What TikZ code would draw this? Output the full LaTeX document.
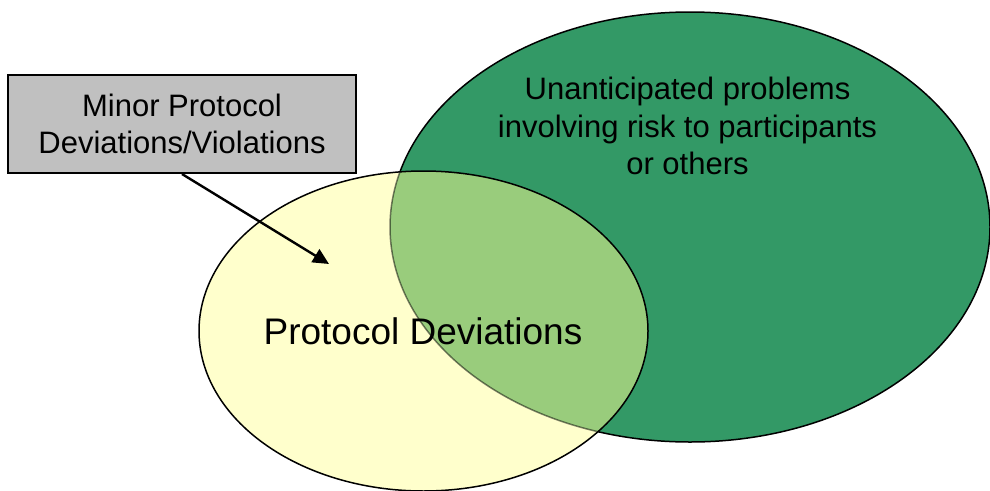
\documentclass[tikz,border=0pt]{standalone}
\usepackage{fontspec}
\setmainfont{Liberation Sans}
\usetikzlibrary{arrows.meta}
\definecolor{riskgreen}{HTML}{339966}
\definecolor{devyellow}{HTML}{FFFFCC}
\definecolor{bothgreen}{HTML}{99CC7C}
\definecolor{boxgray}{HTML}{C0C0C0}
\tikzset{
  bigtext/.style={font=\fontsize{37}{44}\selectfont},
  midtext/.style={font=\fontsize{31}{37.5}\selectfont, align=center, inner sep=0pt},
}

\begin{document}
\begin{tikzpicture}[x=1pt,y=-1pt]
			\useasboundingbox (0,0) rectangle (990,490);
			\draw[fill=riskgreen, line width=1.5pt]   (690,227) ellipse (300 and 215);
			\fill[devyellow] (423.5,331) ellipse (224.5 and 160);
			\begin{scope}
				\clip (423.5,331) ellipse (224.5 and 160);
				\fill[bothgreen] (690,227) ellipse (300 and 215);
				\draw[draw opacity=0.5, line width=1.5pt] (690,227) ellipse (300 and 215);
			\end{scope}
			\draw[line width=1.5pt] (423.5,331) ellipse (224.5 and 160);
			\node[midtext] (risk) at (687.5,126) {Unanticipated problems\\involving risk to participants\\or others};
			\node[bigtext] (dev) at (423,331) {Protocol Deviations};
			\node[midtext, draw, fill=boxgray, line width=2pt, minimum width=348, minimum height=98] (minor) at (182,124) {Minor Protocol\\Deviations/Violations};
			\coordinate (tip) at (329,264);
			\draw[-{Triangle[length=16,width=15]}, line width=2.4pt] (minor.south) -- (tip);
		\end{tikzpicture}
\end{document}
